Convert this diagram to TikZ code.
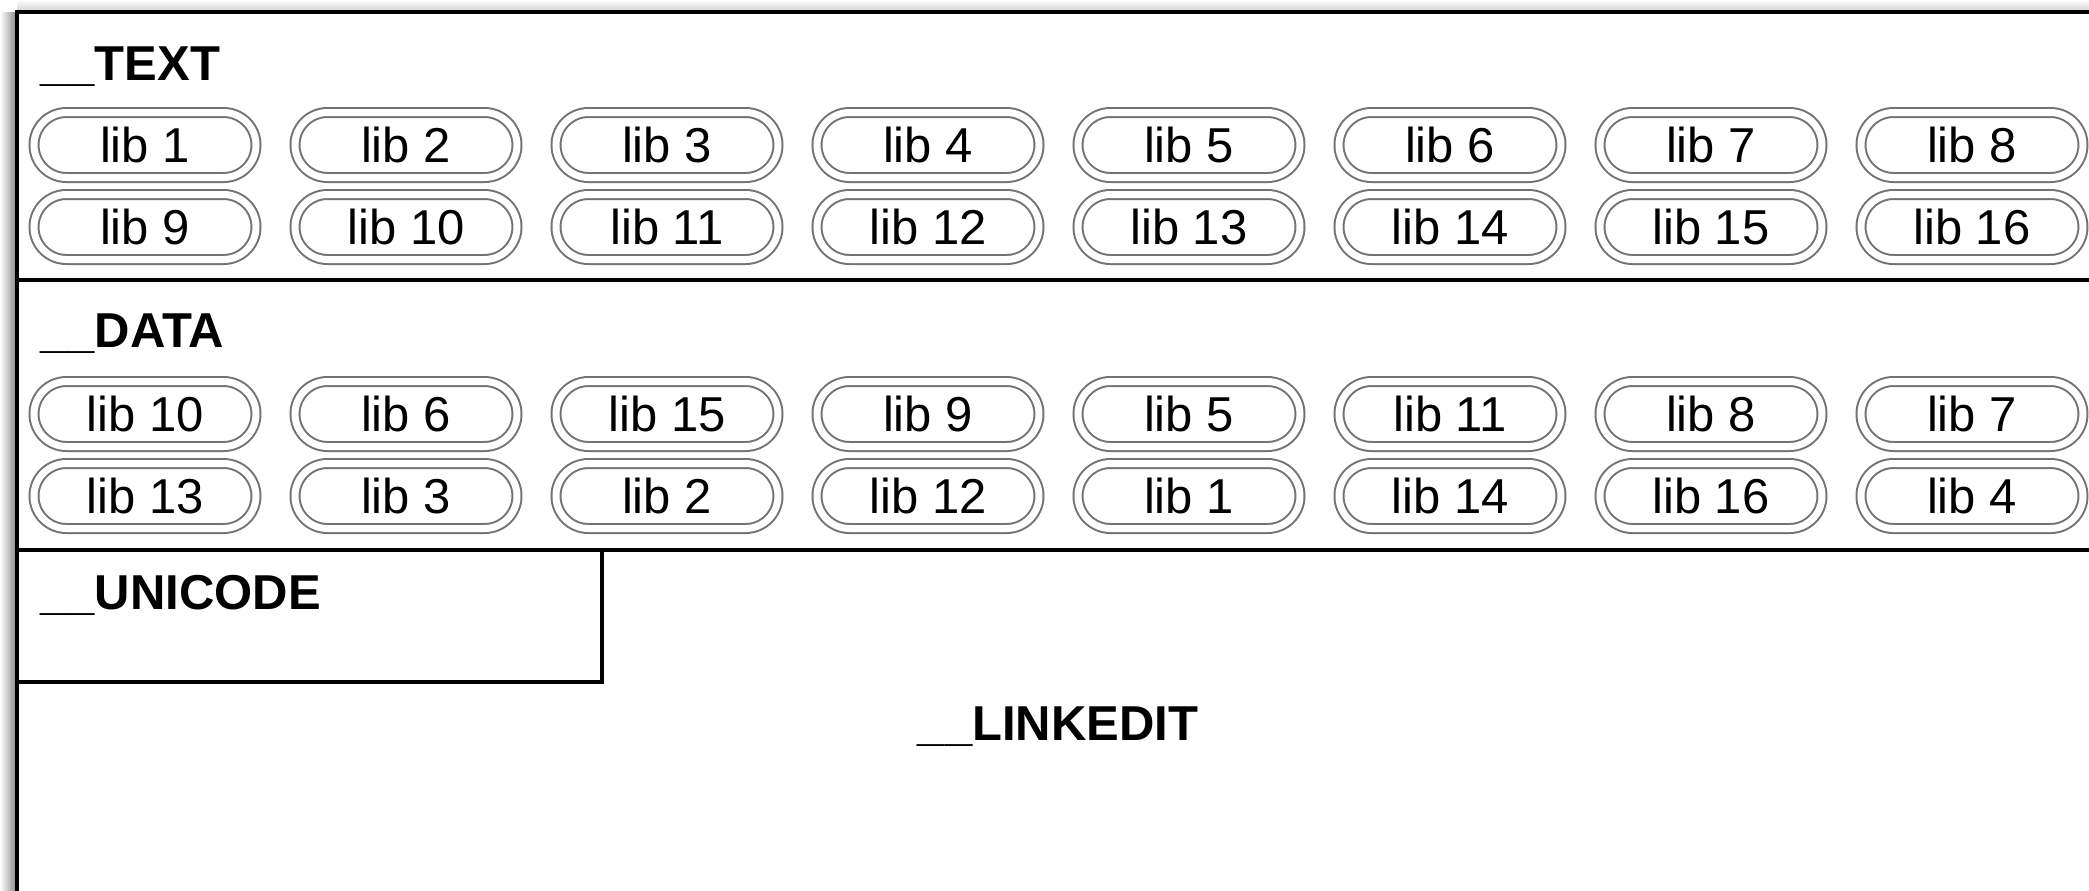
\documentclass[tikz,border=0pt]{standalone}
\usepackage{fontspec}
\setmainfont{Liberation Sans}
\usetikzlibrary{shapes,matrix}

\begin{document}
\begin{tikzpicture}[
x=0.5pt, y=-0.5pt,
font=\fontsize{24.5}{29}\selectfont,
libs/.style={
    matrix of nodes,
    nodes={rounded rectangle, draw=black!55, double, line width=1pt,
        double distance=3.5pt, minimum width=111pt, minimum height=32.5pt,
        inner sep=0pt, anchor=center},
    column sep=14pt,
    row sep=3pt,
    inner sep=0pt,
},
seg/.style={font=\fontsize{24.5}{29}\selectfont\bfseries, inner sep=0pt},
wall/.style={line width=1.6pt, black},
]
\useasboundingbox (0,0) rectangle (2089,890);

% shadow round the frame
\shade[left color=white, right color=black!45] (0,12) rectangle (16,890);
\shade[top color=white, bottom color=black!18] (17,0) rectangle (2089,11);

% frame and segment borders
\draw[wall] (17,895) -- (17,12) -- (2095,12);
\draw[wall] (17,280) -- (2095,280);
\draw[wall] (17,550) -- (2095,550);
\draw[wall] (17,682) -| (602,550);

\node[seg, anchor=base west] (text) at (40,80) {\_\_TEXT};
\matrix[libs] (textlibs) at (1058.5,186) {
  lib 1 & lib 2 & lib 3 & lib 4 & lib 5 & lib 6 & lib 7 & lib 8\\
  lib 9 & lib 10 & lib 11 & lib 12 & lib 13 & lib 14 & lib 15 & lib 16\\
};

\node[seg, anchor=base west] (data) at (40,347) {\_\_DATA};
\matrix[libs] (datalibs) at (1058.5,455) {
  lib 10 & lib 6 & lib 15 & lib 9 & lib 5 & lib 11 & lib 8 & lib 7\\
  lib 13 & lib 3 & lib 2 & lib 12 & lib 1 & lib 14 & lib 16 & lib 4\\
};

\node[seg, anchor=base west] (unicode) at (40,609) {\_\_UNICODE};
\node[seg, anchor=base] (linkedit) at (1058,740) {\_\_LINKEDIT};

\end{tikzpicture}
\end{document}
